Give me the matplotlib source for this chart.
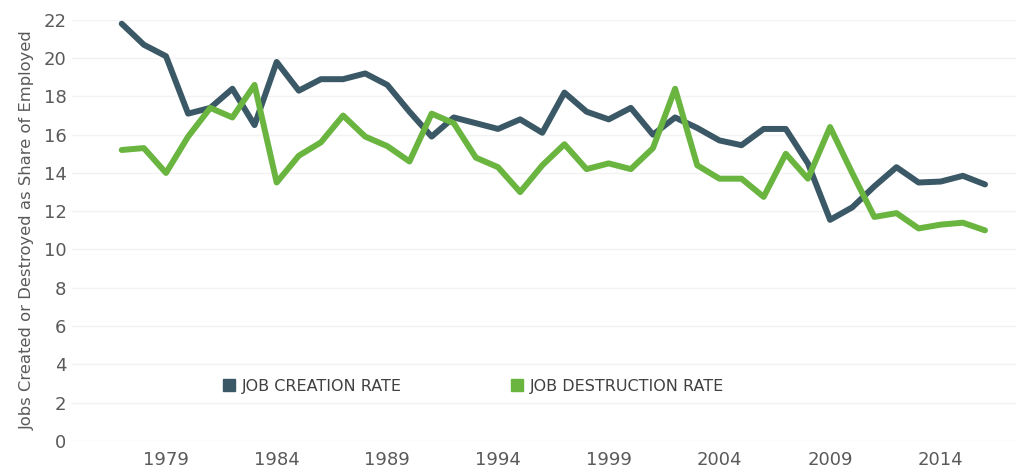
import matplotlib.pyplot as plt
from matplotlib.lines import Line2D

years = list(range(1977, 2017))

# job creation rate, % of employed
creation = [21.8, 20.7, 20.1, 17.1, 17.4, 18.4, 16.5, 19.8, 18.3, 18.9,
            18.9, 19.2, 18.6, 17.2, 15.9, 16.9, 16.6, 16.3, 16.8, 16.1,
            18.2, 17.2, 16.8, 17.4, 16.0, 16.9, 16.35, 15.7, 15.45, 16.3,
            16.3, 14.5, 11.55, 12.2, 13.3, 14.3, 13.5, 13.55, 13.85, 13.4]

# job destruction rate, % of employed
destruction = [15.2, 15.3, 14.0, 15.9, 17.4, 16.9, 18.6, 13.5, 14.9, 15.6,
               17.0, 15.9, 15.4, 14.6, 17.1, 16.6, 14.8, 14.3, 13.0, 14.4,
               15.5, 14.2, 14.5, 14.2, 15.3, 18.4, 14.4, 13.7, 13.7, 12.75,
               15.0, 13.7, 16.4, 14.0, 11.7, 11.9, 11.1, 11.3, 11.4, 11.0]

xticks = [1979, 1984, 1989, 1994, 1999, 2004, 2009, 2014]
yticks = list(range(0, 23, 2))

dark = '#3b5866'
green = '#6ab440'
grey = '#5a5a5a'

plt.rcParams['font.family'] = ['DejaVu Sans']

fig = plt.figure(figsize=(10.16, 4.73), dpi=100)
ax = fig.add_axes([0.071, 0.068, 0.929, 0.89])

ax.plot(years, creation, color=dark, lw=4.3, solid_joinstyle='round',
        solid_capstyle='round', clip_on=False, zorder=3)
ax.plot(years, destruction, color=green, lw=4.3, solid_joinstyle='round',
        solid_capstyle='round', clip_on=False, zorder=3)

ax.set_xlim(1974.76, 2017.4)
ax.set_ylim(0, 22)
ax.set_xticks(xticks)
ax.set_yticks(yticks)
ax.tick_params(axis='both', length=0, colors=grey, labelsize=13)
ax.tick_params(axis='x', pad=7)
ax.tick_params(axis='y', pad=4)
ax.grid(axis='y', color='#f2f2f2', lw=1)
ax.set_axisbelow(True)
for s in ax.spines.values():
    s.set_visible(False)

ax.set_ylabel('Jobs Created or Destroyed as Share of Employed', color=grey,
              fontsize=11.8, labelpad=6)

handles = [Line2D([], [], ls='none', marker='s', markersize=8, color=dark),
           Line2D([], [], ls='none', marker='s', markersize=8, color=green)]
ax.legend(handles, ['JOB CREATION RATE', 'JOB DESTRUCTION RATE'], ncol=2,
          loc='center', bbox_to_anchor=(0.424, 0.13), frameon=False,
          fontsize=11.5, labelcolor='#404040', handletextpad=0.3,
          columnspacing=6.7, handlelength=1)

fig.savefig('out.png', dpi=100)
